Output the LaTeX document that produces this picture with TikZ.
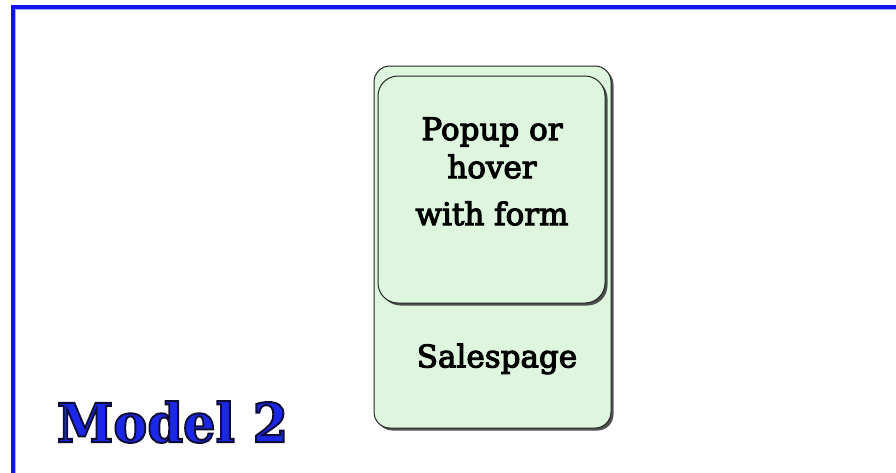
\documentclass[tikz,border=0pt]{standalone}
\usepackage{fontspec}
\setmainfont{DejaVu Serif}
\usetikzlibrary{shadows}

\definecolor{panelgreen}{RGB}{221,246,221}
\definecolor{frameblue}{RGB}{18,18,240}
\definecolor{titleblue}{RGB}{28,40,232}
% stroked (outlined) glyphs
\newcommand{\outlinedtext}[1]{{\special{pdf:literal direct 0.05 0.05 0.22 RG 2 w 2 Tr}#1\special{pdf:literal direct 0 Tr}}}
\newcommand{\heavytext}[1]{{\special{pdf:literal direct 0 0 0 RG 1.1 w 2 Tr}#1\special{pdf:literal direct 0 Tr}}}

\begin{document}
\begin{tikzpicture}
[ x=1pt, y=-1pt,
		panel/.style={rectangle,rounded corners=16pt,draw=black!85,line width=1pt,fill=panelgreen,
			drop shadow={shadow xshift=2.5pt,shadow yshift=-2.5pt,fill=black!80,opacity=0.85}},
		boxtext/.style={font=\fontsize{31}{38}\selectfont,align=center},
		title/.style={font=\fontsize{54}{60}\selectfont\bfseries,text=titleblue}]

	\useasboundingbox (0,0) rectangle (896,472);
	\fill[white] (0,0) rectangle (896,472);
	% frame, open to the right and the bottom
	\draw[frameblue,line width=3.5pt] (13,480) -- (13,7) -- (900,7);
	\draw[frameblue!35,line width=1pt] (15.5,480) -- (15.5,9.5) -- (900,9.5);

	\node[panel,minimum width=237pt,minimum height=362pt] (salespage) at (492.5,247) {};
	\node[panel,rounded corners=20pt,minimum width=227pt,minimum height=227pt] (popup) at (491.5,189.5) {};
	\node[boxtext] (popup text) at (492,171.5) {\heavytext{Popup or}\\\heavytext{hover}\\[9pt]\heavytext{with form}};
	\node[boxtext] (salespage text) at (497,359) {\heavytext{Salespage}};

	\node[title] (model) at (172.5,422) {\scalebox{0.945}[1]{\outlinedtext{Model 2}}};
\end{tikzpicture}
\end{document}
